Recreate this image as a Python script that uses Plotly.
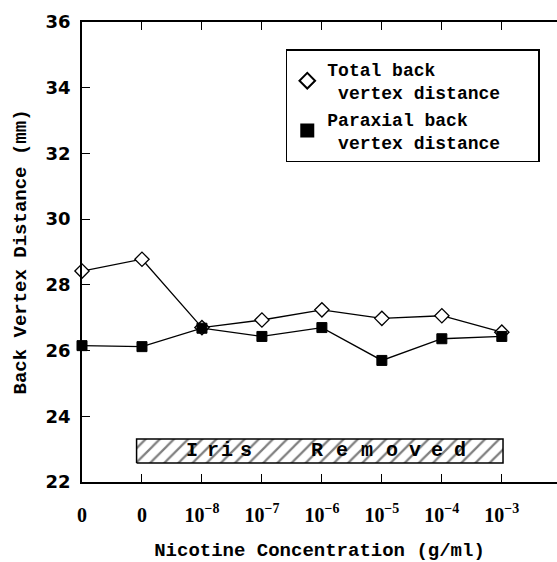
import plotly.graph_objects as go

# ---- data ----
x_labels = ["0", "0", "10<sup>−8</sup>", "10<sup>−7</sup>", "10<sup>−6</sup>",
            "10<sup>−5</sup>", "10<sup>−4</sup>", "10<sup>−3</sup>"]
x_pos = [0, 1, 2, 3, 4, 5, 6, 7]
total_bvd = [28.42, 28.78, 26.70, 26.93, 27.24, 26.98, 27.06, 26.56]
paraxial_bvd = [26.15, 26.12, 26.68, 26.43, 26.70, 25.70, 26.36, 26.43]
y_ticks = [22, 24, 26, 28, 30, 32, 34, 36]

iris_x = [0.91, 7.02]
iris_y = [22.58, 23.31]
iris_letters = ["I", "r", "i", "s", "R", "e", "m", "o", "v", "e", "d"]
iris_letter_x = [1.83, 2.18, 2.42, 2.73, 3.92, 4.33, 4.75, 5.17, 5.55, 5.92, 6.30]

TEXT_FONT = "Liberation Mono"

fig = go.Figure()

# Hatched "Iris Removed" bar
fig.add_trace(go.Scatter(
    x=[iris_x[0], iris_x[1], iris_x[1], iris_x[0], iris_x[0]],
    y=[iris_y[0], iris_y[0], iris_y[1], iris_y[1], iris_y[0]],
    mode="lines", fill="toself",
    fillcolor="white",
    fillpattern=dict(shape="/", fgcolor="black", bgcolor="white", size=10, solidity=0.22),
    line=dict(color="black", width=1.5),
    showlegend=False, hoverinfo="skip"))

# lines
fig.add_trace(go.Scatter(x=x_pos, y=total_bvd, mode="lines",
                         line=dict(color="black", width=1.3),
                         showlegend=False, hoverinfo="skip"))
fig.add_trace(go.Scatter(x=x_pos, y=paraxial_bvd, mode="lines",
                         line=dict(color="black", width=1.3),
                         showlegend=False, hoverinfo="skip"))
# markers
fig.add_trace(go.Scatter(x=x_pos, y=total_bvd, mode="markers",
                         name="Total back<br>\u00a0vertex distance\u00a0\u00a0\u00a0",
                         marker=dict(symbol="diamond", size=11, color="white",
                                     line=dict(color="black", width=1.3)),
                         cliponaxis=False))
fig.add_trace(go.Scatter(x=x_pos, y=paraxial_bvd, mode="markers",
                         name="Paraxial back<br>\u00a0vertex distance\u00a0\u00a0\u00a0",
                         marker=dict(symbol="square", size=10, color="black",
                                     line=dict(color="black", width=1)),
                         cliponaxis=False))

for letter, lx in zip(iris_letters, iris_letter_x):
    fig.add_annotation(x=lx, y=sum(iris_y) / 2, text=letter, showarrow=False,
                       font=dict(family=TEXT_FONT, size=20, color="black", weight="bold"))

fig.update_layout(
    width=557, height=562,
    margin=dict(l=82, r=0, t=22, b=80),
    paper_bgcolor="white", plot_bgcolor="white",
    showlegend=True,
    legend=dict(x=0.429, y=0.9407, xanchor="left", yanchor="top",
                bordercolor="black", borderwidth=1.5, bgcolor="white",
                font=dict(family=TEXT_FONT, size=18, color="black", weight="bold"),
                itemsizing="constant", tracegroupgap=6),
)
fig.update_xaxes(
    range=[0, 7.92], tickmode="array", tickvals=x_pos, ticktext=x_labels,
    showline=True, linecolor="black", linewidth=1.5, mirror="ticks",
    ticks="inside", ticklen=8, tickwidth=1.3, tickcolor="black",
    showgrid=False, zeroline=False, automargin=False,
    tickfont=dict(family="Liberation Serif", size=20, color="black", weight="bold"),
    ticklabelstandoff=14,
    title=dict(text="Nicotine Concentration (g/ml)",
               font=dict(family=TEXT_FONT, size=19, color="black", weight="bold"), standoff=18),
)
fig.update_yaxes(
    range=[22, 36], tickmode="array", tickvals=y_ticks,
    showline=True, linecolor="black", linewidth=1.5, mirror=False,
    ticks="inside", ticklen=8, tickwidth=1.3, tickcolor="black",
    showgrid=False, zeroline=False, automargin=False,
    tickfont=dict(family="DejaVu Sans", size=18, color="black", weight="bold"),
    ticklabelstandoff=6,
    title=dict(text="Back Vertex Distance (mm)",
               font=dict(family=TEXT_FONT, size=19, color="black", weight="bold"), standoff=14),
)

fig.write_html("out.html", config={"displayModeBar": False},
               post_script="document.body.style.margin='0';document.body.style.overflow='hidden';")
